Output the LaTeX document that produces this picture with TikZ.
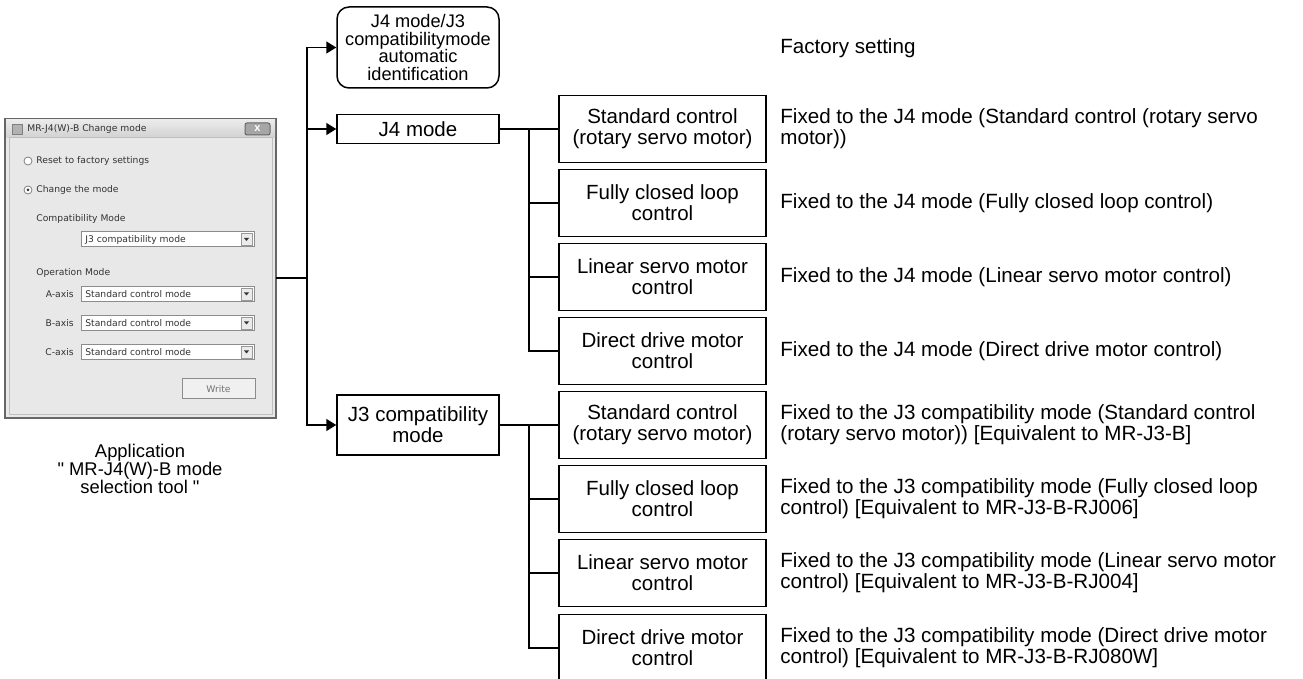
\documentclass[tikz,border=0pt]{standalone}
\usepackage{fontspec}
\setmainfont{Liberation Sans}
\newfontfamily\dlgfont{DejaVu Sans}
\usetikzlibrary{arrows.meta}
\newcommand\dq{\XeTeXglyph\XeTeXcharglyph"22\relax}

\begin{document}
\begin{tikzpicture}[x=0.5pt,y=-0.5pt,
  every node/.style={inner sep=0pt},
  modebox/.style={draw,line width=0.75pt,align=center,font=\fontsize{10.25}{10.5}\selectfont},
  ctrlbox/.style={modebox,minimum width=103.5pt,minimum height=33.5pt},
  note/.style={anchor=west,align=left,font=\fontsize{10.3}{10.5}\selectfont},
  link/.style={line width=0.75pt},
  arr/.style={link,-{Triangle[length=5pt,width=6pt]}},
  dlg/.style={font=\dlgfont\fontsize{4.6}{5}\selectfont,text=black!80},
  combo/.style={fill=white,draw=black!45,line width=0.5pt}]
\useasboundingbox (0,0) rectangle (1303,679);

% application window
\draw[fill=black!9,draw=black!60,line width=1pt] (5,119) rectangle (276,418);
\shade[top color=black!8,bottom color=black!18] (6,120) rectangle (275,138);
\draw[black!25,line width=0.5pt] (9,138) rectangle (272,415);
\draw[fill=black!30,draw=black!50,line width=0.4pt] (12,124) rectangle (22,134);
\node[dlg,anchor=west] (title) at (27,129) {MR-J4(W)-B Change mode};
\draw[fill=black!35,draw=black!60,rounded corners=1pt,line width=0.5pt] (245,123) rectangle (270,135);
\node[font=\bfseries\fontsize{5.5}{5.5}\selectfont,text=white] (close) at (257.5,128.5) {x};

\foreach \y/\t in {161/Reset to factory settings,190/Change the mode} {
  \draw[fill=white,draw=black!50,line width=0.4pt] (28,\y) circle (4);
  \node[dlg,anchor=west] at (36,\y) {\t};
}
\fill[black!80] (28,190) circle (1.5);

\node[dlg,anchor=west] (compat) at (36,219) {Compatibility Mode};
\node[dlg,anchor=west] (opmode) at (36,273) {Operation Mode};
\foreach \y/\t in {239.5/J3 compatibility mode,294/Standard control mode,323/Standard control mode,352/Standard control mode} {
  \draw[combo] (81,\y-7.5) rectangle (254,\y+7.5);
  \draw[fill=black!8,draw=black!40,line width=0.3pt] (241,\y-6) rectangle (252,\y+6);
  \fill[black!80] (244,\y-1.5) -- (249,\y-1.5) -- (246.5,\y+1.5) -- cycle;
  \node[dlg,anchor=west] at (85,\y) {\t};
}
\foreach \y/\a in {294/A,323/B,352/C}
  \node[dlg,anchor=east] (axis\a) at (74,\y) {\a-axis};

\draw[fill=black!6,draw=black!45,line width=0.5pt] (182,379) rectangle (255,399);
\node[dlg,text=black!55] (write) at (218.5,389) {Write};

\node[align=center,font=\fontsize{9.2}{8.8}\selectfont] (app) at (140,469)
  {Application\\\dq{} MR-J4(W)-B mode\\selection tool \dq};

% mode selection
\coordinate (win) at (276,278);
\coordinate (tap) at (307,278);
\node[modebox,rounded corners=6pt,minimum width=81pt,minimum height=40.5pt,font=\fontsize{9.1}{8.9}\selectfont] (auto) at (418,47.5)
  {J4 mode/J3\\compatibilitymode\\automatic\\identification};
\node[modebox,minimum width=81pt,minimum height=14.5pt] (j4) at (418,129) {J4 mode};
\node[modebox,minimum width=81pt,minimum height=30pt] (j3) at (418,425) {J3 compatibility\\mode};

\draw[link] (win) -- (tap);
\draw[arr] (tap) |- (auto.west);
\draw[arr] (tap) |- (j4.west);
\draw[arr] (tap) |- (j3.west);

% control modes
\foreach \n/\y/\t in {1/129/{Standard control\\(rotary servo motor)},2/203/{Fully closed loop\\control},3/277/{Linear servo motor\\control},4/351/{Direct drive motor\\control}}
  \node[ctrlbox] (j4c\n) at (662.5,\y) {\t};
\foreach \n/\y/\t in {1/425/{Standard control\\(rotary servo motor)},2/499/{Fully closed loop\\control},3/573/{Linear servo motor\\control},4/648/{Direct drive motor\\control}}
  \node[ctrlbox] (j3c\n) at (662.5,\y) {\t};

\coordinate (j4bus) at (529,129);
\coordinate (j3bus) at (529,425);
\draw[link] (j4) -- (j4c1);
\draw[link] (j3) -- (j3c1);
\foreach \n in {2,3,4} {
  \draw[link] (j4bus) |- (j4c\n.west);
  \draw[link] (j3bus) |- (j3c\n.west);
}

% descriptions
\node[note] (n0) at (780,48) {Factory setting};
\node[note] (n1) at (780,129) {Fixed to the J4 mode (Standard control (rotary servo\\motor))};
\node[note] (n2) at (780,203) {Fixed to the J4 mode (Fully closed loop control)};
\node[note] (n3) at (780,277) {Fixed to the J4 mode (Linear servo motor control)};
\node[note] (n4) at (780,351) {Fixed to the J4 mode (Direct drive motor control)};
\node[note] (n5) at (780,425) {Fixed to the J3 compatibility mode (Standard control\\(rotary servo motor)) [Equivalent to MR-J3-B]};
\node[note] (n6) at (780,499) {Fixed to the J3 compatibility mode (Fully closed loop\\control) [Equivalent to MR-J3-B-RJ006]};
\node[note] (n7) at (780,573) {Fixed to the J3 compatibility mode (Linear servo motor\\control) [Equivalent to MR-J3-B-RJ004]};
\node[note] (n8) at (780,648) {Fixed to the J3 compatibility mode (Direct drive motor\\control) [Equivalent to MR-J3-B-RJ080W]};
\end{tikzpicture}
\end{document}
